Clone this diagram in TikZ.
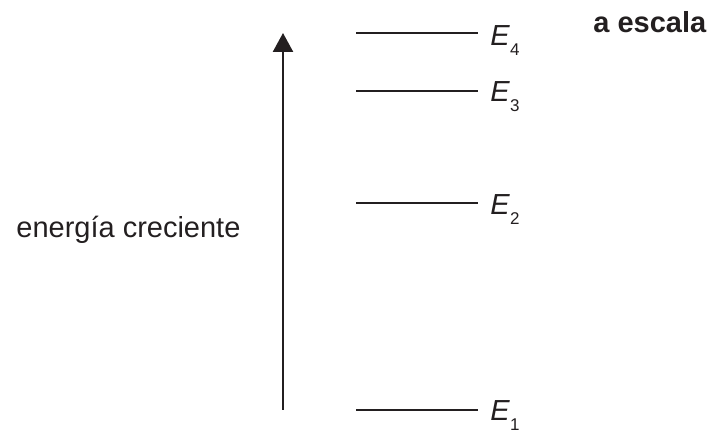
\documentclass[tikz,border=0pt]{standalone}
\usepackage{fontspec}
\setmainfont{Liberation Sans}
\usepackage{tikz}
\usetikzlibrary{arrows.meta,positioning}
\definecolor{ink}{RGB}{35,31,32}
\newcommand{\lvl}[1]{\textit{E}\raisebox{-4.7pt}{\fontsize{8.5}{10}\selectfont #1}}
\tikzstyle{level} = [draw=ink, line width=1.2pt]
\tikzstyle{axis}  = [draw=ink, line width=1.2pt, -{Triangle[length=9.5pt,width=10pt]}]
\tikzstyle{lbl}   = [text=ink, inner sep=0pt, anchor=base west, font=\fontsize{14.5}{17}\selectfont]
\tikzstyle{title} = [lbl, font=\fontsize{14.5}{17}\selectfont\bfseries]

\begin{document}
\begin{tikzpicture}[x=0.5pt, y=-0.5pt]
\useasboundingbox (0,0) rectangle (712,431);

% energy axis =============================
\coordinate (axbot) at (283,410);
\coordinate (axtop) at (283,33);
\path[axis] (axbot) -- (axtop);
\node[lbl] (grow) at (16,238) {energía creciente};

% levels
\coordinate (l1a) at (356,410);
\coordinate (l1b) at (478,410);
\coordinate (l2a) at (356,203);
\coordinate (l2b) at (478,203);
\coordinate (l3a) at (356,91);
\coordinate (l3b) at (478,91);
\coordinate (l4a) at (356,33);
\coordinate (l4b) at (478,33);

\path[level] (l1a) -- (l1b);
\path[level] (l2a) -- (l2b);
\path[level] (l3a) -- (l3b);
\path[level] (l4a) -- (l4b);

%labels
\node[lbl] (e1) at ([xshift=6pt,yshift=-5.5pt]l1b) {\lvl{1}};
\node[lbl] (e2) at ([xshift=6pt,yshift=-6pt]l2b) {\lvl{2}};
\node[lbl] (e3) at ([xshift=6pt,yshift=-5.5pt]l3b) {\lvl{3}};
\node[lbl] (e4) at ([xshift=6pt,yshift=-6.5pt]l4b) {\lvl{4}};

\node[title] (scale) at (593,33) {a escala};

\end{tikzpicture}
\end{document}
